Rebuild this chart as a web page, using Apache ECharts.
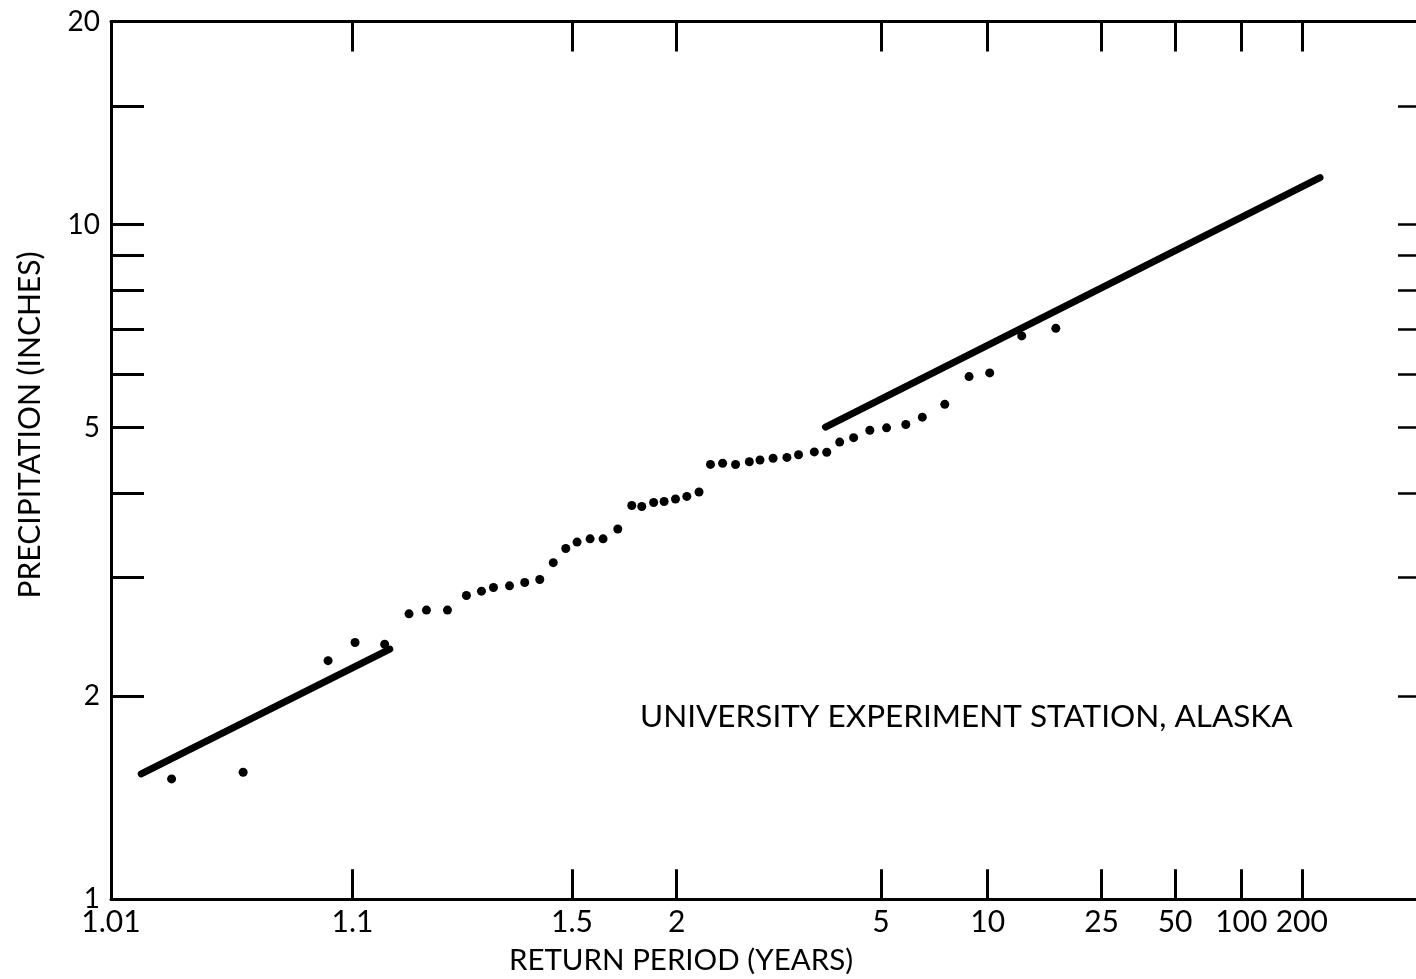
<!DOCTYPE html>
<html>
<head>
<meta charset="utf-8">
<script src="https://cdn.jsdelivr.net/npm/echarts@6/dist/echarts.min.js"></script>
<style>
  html, body { margin: 0; padding: 0; background: #fff; }
  #chart { width: 1416px; height: 979px; }
</style>
</head>
<body>
<div id="chart"></div>
<script>
// ---- Data (return period in years, precipitation in inches) ----
const obsPeriods = [1.0191, 1.0385, 1.0817, 1.1021, 1.1294, 1.1563, 1.1784, 1.2086, 1.2396, 1.2670,
  1.2908, 1.3256, 1.3620, 1.4015, 1.4403, 1.4793, 1.5172, 1.5645, 1.6155, 1.6787,
  1.7446, 1.7953, 1.8599, 1.9212, 1.9928, 2.0696, 2.1589, 2.2497, 2.3541, 2.4752,
  2.6164, 2.7353, 2.8944, 3.0797, 3.2499, 3.5063, 3.7300, 3.9872, 4.2937, 4.695,
  5.168, 5.797, 6.423, 7.429, 8.764, 10.15, 12.90, 16.92];
const obsPrecip = [1.508, 1.543, 2.258, 2.402, 2.388, 2.649, 2.683, 2.683, 2.820, 2.862,
  2.898, 2.915, 2.948, 2.978, 3.155, 3.311, 3.384, 3.422, 3.422, 3.538,
  3.834, 3.821, 3.874, 3.887, 3.920, 3.955, 4.015, 4.411, 4.429, 4.410,
  4.452, 4.479, 4.505, 4.518, 4.560, 4.604, 4.599, 4.761, 4.833, 4.956,
  4.998, 5.055, 5.183, 5.415, 5.953, 6.028, 6.839, 7.019];

const fitLowerPeriods = [1.0139, 1.1347];
const fitLowerPrecip = [1.534, 2.349];
const fitUpperPeriods = [3.706, 249];
const fitUpperPrecip = [5.012, 11.74];

const xLabelPeriods = [1.01, 1.1, 1.5, 2, 5, 10, 25, 50, 100, 200];
const xLabelTexts = ['1.01', '1.1', '1.5', '2', '5', '10', '25', '50', '100', '200'];
const xTickPeriods = [1.1, 1.5, 2, 5, 10, 25, 50, 100, 200];
const yLabelValues = [1, 2, 5, 10, 20];
const yTickValues = [2, 3, 4, 5, 6, 7, 8, 9, 10, 15];

// ---- Normal-probability scale: return period -> standard normal quantile ----
function probit(p) {
  const a = [-3.969683028665376e+01, 2.209460984245205e+02, -2.759285104469687e+02, 1.383577518672690e+02, -3.066479806614716e+01, 2.506628277459239e+00];
  const b = [-5.447609879822406e+01, 1.615858368580409e+02, -1.556989798598866e+02, 6.680131188771972e+01, -1.328068155288572e+01];
  const c = [-7.784894002430293e-03, -3.223964580411365e-01, -2.400758277161838e+00, -2.549732539343734e+00, 4.374664141464968e+00, 2.938163982698783e+00];
  const d = [7.784695709041462e-03, 3.224671290700398e-01, 2.445134137142996e+00, 3.754408661907416e+00];
  const plow = 0.02425, phigh = 1 - plow;
  let q, r;
  if (p < plow) {
    q = Math.sqrt(-2 * Math.log(p));
    return (((((c[0]*q+c[1])*q+c[2])*q+c[3])*q+c[4])*q+c[5]) / ((((d[0]*q+d[1])*q+d[2])*q+d[3])*q+1);
  } else if (p <= phigh) {
    q = p - 0.5; r = q * q;
    return (((((a[0]*r+a[1])*r+a[2])*r+a[3])*r+a[4])*r+a[5])*q / (((((b[0]*r+b[1])*r+b[2])*r+b[3])*r+b[4])*r+1);
  } else {
    q = Math.sqrt(-2 * Math.log(1 - p));
    return -(((((c[0]*q+c[1])*q+c[2])*q+c[3])*q+c[4])*q+c[5]) / ((((d[0]*q+d[1])*q+d[2])*q+d[3])*q+1);
  }
}
const zOf = T => probit(1 - 1 / T);

const xLabelZ = xLabelPeriods.map(zOf);
const xTickZ = xTickPeriods.map(zOf);
const pairs = (xs, ys) => xs.map((t, i) => [zOf(t), ys[i]]);

const FONT = 'Lato';
const chart = echarts.init(document.getElementById('chart'));

const xFormatter = v => {
  for (let i = 0; i < xLabelZ.length; i++) if (Math.abs(xLabelZ[i] - v) < 1e-6) return xLabelTexts[i];
  return '';
};

const axisLineStyle = { color: '#000', width: 3 };
const tickLineStyle = { color: '#000', width: 3 };

chart.setOption({
  animation: false,
  backgroundColor: '#fff',
  grid: { left: 111, top: 21.5, width: 1320, height: 877.8, outerBoundsMode: 'none', containLabel: false },
  xAxis: [
    {
      type: 'value', position: 'bottom', min: xLabelZ[0], max: 3.108,
      axisLine: { show: true, lineStyle: axisLineStyle },
      splitLine: { show: false },
      axisTick: { show: true, inside: true, length: 30, customValues: xTickZ, lineStyle: tickLineStyle },
      axisLabel: { show: true, customValues: xLabelZ, formatter: xFormatter, margin: 8,
        color: '#000', fontFamily: FONT, fontSize: 30, showMinLabel: true, showMaxLabel: true, hideOverlap: false }
    },
    {
      type: 'value', position: 'top', min: xLabelZ[0], max: 3.108,
      axisLine: { show: true, onZero: false, lineStyle: axisLineStyle },
      splitLine: { show: false },
      axisTick: { show: true, inside: true, length: 30, customValues: xTickZ, lineStyle: tickLineStyle },
      axisLabel: { show: false }
    }
  ],
  yAxis: [
    {
      type: 'log', logBase: 10, position: 'left', min: 1, max: 20,
      axisLine: { show: true, onZero: false, lineStyle: axisLineStyle },
      splitLine: { show: false },
      minorTick: { show: false },
      axisTick: { show: true, inside: true, length: 33, customValues: yTickValues, lineStyle: tickLineStyle },
      axisLabel: { show: true, customValues: yLabelValues, margin: 11, color: '#000',
        fontFamily: FONT, fontSize: 28, showMinLabel: true, showMaxLabel: true, hideOverlap: false }
    },
    {
      type: 'log', logBase: 10, position: 'right', min: 1, max: 20,
      axisLine: { show: true, onZero: false, lineStyle: axisLineStyle },
      splitLine: { show: false },
      axisTick: { show: true, inside: true, length: 33, customValues: yTickValues, lineStyle: { color: '#000', width: 2.5 } },
      axisLabel: { show: false }
    }
  ],
  graphic: [
    { type: 'text', x: 30, y: 425, rotation: Math.PI / 2,
      style: { text: 'PRECIPITATION (INCHES)', fill: '#000', font: '30px ' + FONT, align: 'center', verticalAlign: 'middle' } },
    { type: 'text', x: 681, y: 960,
      style: { text: 'RETURN PERIOD (YEARS)', fill: '#000', font: '29.5px ' + FONT, align: 'center', verticalAlign: 'middle' } },
    { type: 'text', x: 640, y: 717,
      style: { text: 'UNIVERSITY EXPERIMENT STATION, ALASKA', fill: '#000', font: '31.5px ' + FONT, align: 'left', verticalAlign: 'middle' } }
  ],
  series: [
    { type: 'line', name: 'fit-lower', xAxisIndex: 0, yAxisIndex: 0, data: pairs(fitLowerPeriods, fitLowerPrecip),
      showSymbol: false, symbol: 'none', lineStyle: { color: '#000', width: 7, cap: 'round' }, z: 3 },
    { type: 'line', name: 'fit-upper', xAxisIndex: 0, yAxisIndex: 0, data: pairs(fitUpperPeriods, fitUpperPrecip),
      showSymbol: false, symbol: 'none', lineStyle: { color: '#000', width: 7, cap: 'round' }, z: 3 },
    { type: 'scatter', name: 'observed', xAxisIndex: 0, yAxisIndex: 0, data: pairs(obsPeriods, obsPrecip),
      symbol: 'circle', symbolSize: 9, itemStyle: { color: '#000', opacity: 1 }, z: 4 }
  ]
});
</script>
</body>
</html>
